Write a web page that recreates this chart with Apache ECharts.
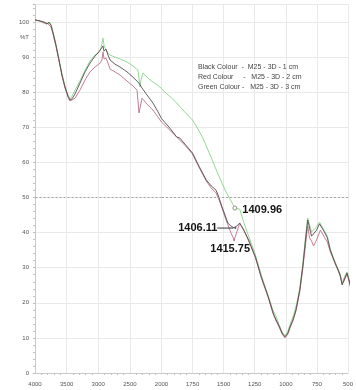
<!DOCTYPE html>
<html>
<head>
<meta charset="utf-8">
<script src="https://cdn.jsdelivr.net/npm/echarts@6/dist/echarts.min.js"></script>
<style>
html,body{margin:0;padding:0;background:#fff}
#chart{width:356px;height:390px}
</style>
</head>
<body>
<div id="chart"></div>
<script>
// FTIR transmittance spectra, [wavenumber cm-1, %T]
const blackCurve = [
  [4000,100.6],[3921,100.3],[3858,100.0],[3810,99.4],[3779,100.0],[3747,99.1],[3715,96.9],
  [3668,93.4],[3621,89.2],[3573,84.9],[3526,81.5],[3478,78.9],[3447,77.8],[3415,78.1],
  [3368,79.5],[3289,82.6],[3209,85.8],[3130,88.3],[3051,90.3],[2988,91.5],[2957,92.0],
  [2925,93.2],[2909,91.7],[2877,92.3],[2846,90.6],[2814,89.2],[2735,88.0],[2656,87.2],
  [2545,85.8],[2451,84.3],[2356,82.6],[2308,81.2],[2229,79.2],[2134,76.9],[2055,74.4],
  [2000,72.5],[1988,72.1],[1933,69.8],[1877,67.2],[1854,67.0],[1806,65.0],[1751,62.7],
  [1695,58.7],[1640,55.0],[1600,53.3],[1561,52.1],[1537,49.9],[1513,47.3],[1489,45.0],
  [1466,42.7],[1442,41.9],[1418,41.4],[1406.11,41.3],[1394,41.9],[1371,42.7],[1339,40.7],
  [1299,37.9],[1244,33.0],[1197,27.3],[1141,21.7],[1102,17.1],[1078,15.1],[1054,13.4],
  [1030,11.4],[1007,10.3],[983,11.4],[967,13.1],[943,15.1],[919,17.9],[888,23.6],
  [864,30.2],[840,38.5],[824,43.6],[809,41.3],[793,39.0],[777,38.7],[753,40.7],[729,42.5],
  [714,42.2],[690,40.2],[666,38.5],[642,35.0],[619,32.8],[603,31.3],[579,29.3],[563,27.9],
  [547,25.1],[532,26.5],[508,28.5],[492,26.5],[476,24.2],[460,20.8]
];
const redCurve = [
  [4000,100.6],[3921,100.3],[3858,99.7],[3810,99.7],[3779,99.4],[3747,98.6],[3715,96.6],
  [3668,93.0],[3621,88.9],[3573,84.6],[3526,81.2],[3478,78.6],[3447,77.5],[3415,77.8],
  [3368,78.3],[3289,80.6],[3209,83.5],[3130,85.8],[3051,87.2],[2972,88.3],[2941,89.2],
  [2925,91.5],[2909,89.5],[2877,89.7],[2846,88.3],[2814,86.6],[2735,85.8],[2656,84.9],
  [2545,83.2],[2451,81.8],[2387,80.6],[2356,74.1],[2340,75.5],[2308,78.3],[2229,76.6],
  [2134,74.9],[2055,72.9],[2000,71.5],[1988,71.2],[1933,69.2],[1877,67.2],[1806,64.7],
  [1751,62.4],[1695,58.4],[1640,54.7],[1600,52.7],[1561,51.3],[1537,49.3],[1513,47.0],
  [1489,44.4],[1466,42.2],[1442,40.0],[1415.75,37.9],[1394,40.2],[1371,42.7],[1339,40.9],
  [1299,37.6],[1244,32.8],[1197,27.1],[1141,21.4],[1102,16.8],[1078,14.8],[1054,13.1],
  [1030,11.1],[1007,10.0],[983,11.1],[967,12.8],[943,14.8],[919,17.6],[888,23.1],
  [864,29.6],[840,37.0],[824,41.9],[809,38.5],[793,37.6],[777,36.2],[753,37.9],[722,40.7],
  [714,40.5],[690,38.7],[666,37.3],[642,34.5],[619,32.5],[603,31.1],[579,29.1],[563,27.6],
  [547,25.4],[532,26.2],[508,28.2],[492,26.2],[476,23.9],[460,20.5]
];
const greenCurve = [
  [4000,100.6],[3921,100.3],[3858,100.0],[3810,99.7],[3779,100.0],[3747,99.4],[3715,97.2],
  [3668,93.7],[3621,89.5],[3573,85.2],[3526,81.8],[3478,79.2],[3447,78.1],[3415,78.9],
  [3368,80.6],[3289,83.2],[3209,86.3],[3130,88.9],[3051,90.6],[2988,91.5],[2957,92.6],
  [2925,95.4],[2909,93.4],[2877,92.0],[2846,91.2],[2814,90.6],[2735,90.0],[2656,89.5],
  [2545,88.6],[2451,87.5],[2372,86.3],[2340,81.5],[2324,83.5],[2293,85.5],[2214,84.0],
  [2134,82.9],[2024,81.5],[2000,81.0],[1956,79.5],[1917,78.3],[1877,76.9],[1814,74.4],
  [1751,72.1],[1711,69.8],[1671,67.2],[1640,64.7],[1616,62.7],[1592,60.7],[1553,57.3],
  [1513,54.1],[1481,51.6],[1458,50.1],[1426,48.1],[1409.96,47.0],[1394,47.3],[1371,46.7],
  [1339,43.0],[1299,39.0],[1244,33.6],[1197,27.9],[1141,21.9],[1102,17.7],[1078,16.2],
  [1054,13.7],[1030,11.7],[1007,10.5],[983,12.0],[959,14.5],[935,16.8],[912,19.9],
  [888,24.2],[864,31.1],[840,39.3],[824,44.2],[809,42.2],[793,40.2],[777,39.9],[753,41.6],
  [729,43.0],[714,42.5],[690,40.5],[666,39.0],[642,35.3],[619,33.0],[603,31.6],[579,29.6],
  [563,28.2],[547,25.6],[532,27.1],[508,28.8],[492,26.8],[476,24.5],[460,21.1]
];

// Marked band positions (cm-1)
const peakGreen = 1409.96;
const peakBlack = 1406.11;
const peakRed = 1415.75;

// Axis ticks
const yTickValues = [0, 10, 20, 30, 40, 50, 60, 70, 80, 90, 100];
const yUnitAt = 95.5;
const legendLines = [
  'Black Colour  -  M25 - 3D - 1 cm',
  'Red Colour     -   M25 - 3D - 2 cm',
  'Green Colour -   M25 - 3D - 3 cm'
];

const COLORS = { black: '#574c4c', red: '#bb7189', green: '#8ad38a' };
const FONT = 'Liberation Sans';

const peakText = { fontSize: 11, fontWeight: 'bold', color: '#151515', fontFamily: FONT };
const peakLabel = Object.assign({ show: true, formatter: p => String(p.value[0]) }, peakText);

function withMarks(curve, peak, labelOpts, symbolOpts) {
  return curve.map(p => {
    if (p[0] !== peak) return p;
    return Object.assign({ value: p, label: Object.assign({}, peakLabel, labelOpts) }, symbolOpts);
  });
}

// black band label carries a short leader line toward its point
const blackData = withMarks(blackCurve, peakBlack,
  {
    position: 'left', distance: 1,
    formatter: p => '{t|' + p.value[0] + '}{l|}',
    rich: { t: peakText, l: { width: 16, height: 1, backgroundColor: '#333' } }
  },
  { symbol: 'circle', symbolSize: 2, itemStyle: { color: COLORS.black } });
const redData = withMarks(redCurve, peakRed,
  { position: 'bottom', distance: 2, offset: [-4, 0] },
  { symbol: 'circle', symbolSize: 2, itemStyle: { color: COLORS.red } });
const greenData = withMarks(greenCurve, peakGreen,
  { position: 'right', distance: 5, offset: [0, 2] },
  { symbol: 'circle', symbolSize: 4, itemStyle: { color: '#fff', borderColor: '#8a9a8a', borderWidth: 1 } });

const wn = d => (Array.isArray(d) ? d[0] : d.value[0]);
const highRange = data => data.filter(d => wn(d) >= 2000);
const lowRange = data => data.filter(d => wn(d) <= 2000);

const gridLine = { show: true, lineStyle: { color: '#e9e9e9', width: 1 } };
const axisText = { fontSize: 6, color: '#555', fontFamily: FONT };
const minor = { show: true, splitNumber: 5, length: 2, lineStyle: { color: '#c4c4c4' } };

const fiftyLine = {
  silent: true, symbol: 'none', label: { show: false },
  lineStyle: { color: '#a4a4a4', type: [2, 2], width: 1 },
  data: [{ yAxis: 50 }]
};

function lineSeries(name, data, idx, color, extra) {
  return Object.assign({
    name, type: 'line', xAxisIndex: idx, yAxisIndex: idx, data,
    symbol: 'none', showSymbol: true, smooth: false, clip: false,
    lineStyle: { color, width: 0.9 }, itemStyle: { color },
    emphasis: { disabled: true }
  }, extra || {});
}

const chart = echarts.init(document.getElementById('chart'), null, { renderer: 'canvas' });
chart.setOption({
  animation: false,
  backgroundColor: '#fff',
  title: {
    text: legendLines.join('\n'),
    left: 193, top: 57,
    textStyle: { fontSize: 7, fontWeight: 'normal', color: '#444', lineHeight: 10, fontFamily: FONT }
  },
  grid: [
    { left: 35, right: 194.5, top: 4.5, bottom: 17 },
    { left: 161.5, right: 5, top: 4.5, bottom: 17 }
  ],
  xAxis: [
    {
      gridIndex: 0, type: 'value', inverse: true, min: 2000, max: 4000, interval: 500,
      axisLine: { lineStyle: { color: '#c8c8c8' } }, axisTick: { show: false }, minorTick: minor,
      axisLabel: Object.assign({ margin: 8, formatter: v => String(v) }, axisText), splitLine: gridLine
    },
    {
      gridIndex: 1, type: 'value', inverse: true, min: 500, max: 2000, interval: 250,
      axisLine: { lineStyle: { color: '#c8c8c8' } }, axisTick: { show: false }, minorTick: minor,
      axisLabel: Object.assign({ margin: 8, showMaxLabel: false, formatter: v => String(v) }, axisText),
      splitLine: gridLine
    }
  ],
  yAxis: [
    {
      gridIndex: 0, type: 'value', min: 0, max: 105, interval: 10,
      axisLine: { show: true, lineStyle: { color: '#c8c8c8' } },
      axisTick: { show: true, length: 2, lineStyle: { color: '#bbb' } }, minorTick: minor,
      axisLabel: Object.assign({
        margin: 6,
        customValues: yTickValues.concat([yUnitAt]),
        formatter: v => (v === yUnitAt ? '%T' : String(v))
      }, axisText),
      splitLine: gridLine
    },
    {
      gridIndex: 1, type: 'value', min: 0, max: 105, interval: 10,
      axisLine: { show: false }, axisTick: { show: false }, axisLabel: { show: false },
      splitLine: gridLine
    }
  ],
  series: [
    lineSeries('Green high', highRange(greenData), 0, COLORS.green),
    lineSeries('Red high', highRange(redData), 0, COLORS.red),
    lineSeries('Black high', highRange(blackData), 0, COLORS.black, { markLine: fiftyLine }),
    lineSeries('Green low', lowRange(greenData), 1, COLORS.green),
    lineSeries('Red low', lowRange(redData), 1, COLORS.red),
    lineSeries('Black low', lowRange(blackData), 1, COLORS.black, { markLine: fiftyLine })
  ]
});
</script>
</body>
</html>
